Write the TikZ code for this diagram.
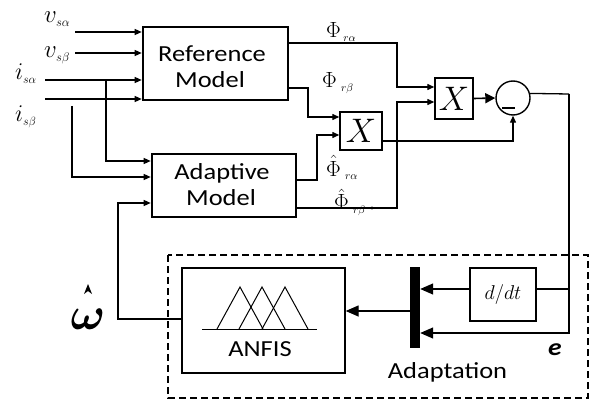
\RequirePackage{fix-cm}
\documentclass[tikz,border=0pt]{standalone}
\usepackage{fontspec}
\usepackage{amsmath,bm}
\usetikzlibrary{arrows.meta}
\newfontfamily\lbl[FakeStretch=1.15]{Carlito}
\begin{document}
\begin{tikzpicture}[x=1pt,y=-1pt,
  thinline/.style={line width=1.3pt},
  arr/.style={thinline,-{Triangle[length=7pt,width=6pt]}},
  bigarr/.style={thinline,-{Triangle[length=13pt,width=11pt]}},
  mbox/.style={draw,line width=2.6pt,inner sep=0pt},
  xbox/.style={draw,line width=1.4pt,inner sep=0pt,font=\fontsize{34}{34}\selectfont},
  boxtxt/.style={font=\lbl\fontsize{23}{23}\selectfont,anchor=base,inner sep=0pt},
  sig/.style={font=\fontsize{22}{22}\selectfont,anchor=base west,inner sep=0pt}]
\useasboundingbox (0,0) rectangle (592,401);
\fill[white] (0,0) rectangle (592,401);

% main boxes
\node[mbox,minimum width=145pt,minimum height=73pt] (ref) at (215.5,63.5) {};
\node[boxtxt] (reft1) at (212,62) {Reference};
\node[boxtxt] (reft2) at (210,88) {Model};
\node[mbox,minimum width=144pt,minimum height=63pt] (ada) at (224,185.5) {};
\node[boxtxt] (adat1) at (222,180) {Adaptive};
\node[boxtxt] (adat2) at (221,205) {Model};

\node[xbox,minimum width=42pt,minimum height=38pt] (x1) at (361,131) {$X$};
\node[xbox,minimum width=38pt,minimum height=41pt] (x2) at (454,98.5) {$X$};
\node[draw,circle,line width=1.4pt,minimum size=34pt,inner sep=0pt] (circ) at (513,98) {};
\draw[line width=1.5pt] (502,108) -- (515,108);

% dashed adaptation block
\draw[line width=2.4pt,dash pattern=on 7pt off 4pt] (168,255) rectangle (588,398);
\node[draw,line width=1.3pt,minimum width=163pt,minimum height=105pt,inner sep=0pt] (anfis) at (263.5,320.5) {};
\node[boxtxt] (anfist) at (260,356) {ANFIS};
\draw[line width=1pt] (202,329) -- (317,329);
\foreach \p in {240,262,285}{
  \draw[line width=1pt] (\p-23,329) -- (\p,287) -- (\p+23,329);
}
\node[fill=black,minimum width=10pt,minimum height=81pt,inner sep=0pt] (bar) at (415,307.5) {};
\node[draw,line width=1.3pt,minimum width=66pt,minimum height=53pt,inner sep=0pt,font=\fontsize{20}{20}\selectfont] (ddt) at (503,294.5) {$d/dt$};
\node[boxtxt] (adapt) at (447.5,378) {Adaptation};
\node[font=\lbl\bfseries\itshape\fontsize{24}{24}\selectfont,anchor=base,inner sep=0pt] (elbl) at (555,355) {e};

% inputs
\coordinate (vsa) at (75,32);
\coordinate (vsb) at (75,53);
\coordinate (isa) at (45,80);
\coordinate (isb) at (45,99);
\coordinate (br1) at (106,80);
\coordinate (br2) at (72,106);
\draw[arr] (vsa) -- (ref.west |- vsa);
\draw[arr] (vsb) -- (ref.west |- vsb);
\draw[arr] (isa) -- (ref.west |- isa);
\draw[arr] (isb) -- (ref.west |- isb);
\draw[arr] (br1) -- (106,161) -- (ada.west |- 0,161);
\draw[arr] (br2) -- (72,177) -- (ada.west |- 0,177);

\node[sig,font=\fontsize{25}{25}\selectfont] (lvsa) at (44,23) {$v_{\scriptscriptstyle s\alpha}$};
\node[sig,font=\fontsize{25}{25}\selectfont] (lvsb) at (44,58) {$v_{\scriptscriptstyle s\beta}$};
\node[sig,font=\fontsize{24}{24}\selectfont] (lisa) at (15,80) {$i_{\scriptscriptstyle s\alpha}$};
\node[sig,font=\fontsize{24}{24}\selectfont] (lisb) at (15,122) {$i_{\scriptscriptstyle s\beta}$};

% omega feedback
\draw[arr] (anfis.west |- 0,319) -- (118,319) -- (118,203) -- (ada.west |- 0,203);
\node[font=\fontsize{46}{46}\selectfont,anchor=base,inner sep=0pt] (lom) at (88,329) {$\bm{\omega}$};
\fill (84,294) -- (88,284) -- (92,294) -- (88,291) -- cycle;

% outputs of models
\draw[arr] (ref.east |- 0,43) -- (397,43) -- (397,87) -- (x2.west |- 0,87);
\draw[arr] (ref.east |- 0,88) -- (308,88) -- (308,117) -- (x1.west |- 0,117);
\draw[arr] (ada.east |- 0,180) -- (317,180) -- (317,135) -- (x1.west |- 0,135);
\draw[arr] (ada.east |- 0,208) -- (397,208) -- (397,102) -- (x2.west |- 0,102);
\fill (372,208) circle (1.6pt);

\node[sig] (lpra) at (326,38) {$\Phi_{\,\scriptscriptstyle r\alpha}$};
\node[sig] (lprb) at (322,88) {$\Phi_{\;\scriptscriptstyle r\beta}$};
\node[sig] (lhra) at (326,176) {$\hat{\Phi}_{\;\scriptscriptstyle r\alpha}$};
\node[sig] (lhrb) at (334,210) {$\hat{\Phi}_{\;\scriptscriptstyle r\beta}$};

% products to summer
\draw[arr] (x1.east |- 0,141) -- (513,141) -- (circ.south);
\draw[line width=1.6pt,-{Triangle[length=10pt,width=10pt]}] (x2.east) -- (circ.west);

% error loop
\coordinate (eright) at (569,94);
\draw[thinline] (circ.15) -- (eright);
\draw[bigarr] (eright) -- (569,333) -- (bar.east |- 0,333);
\draw[thinline] (569,289) -- (ddt.east |- 0,289);
\draw[bigarr] (ddt.west |- 0,289) -- (bar.east |- 0,289);
\draw[bigarr] (bar.west |- 0,311) -- (anfis.east |- 0,311);
\end{tikzpicture}
\end{document}
